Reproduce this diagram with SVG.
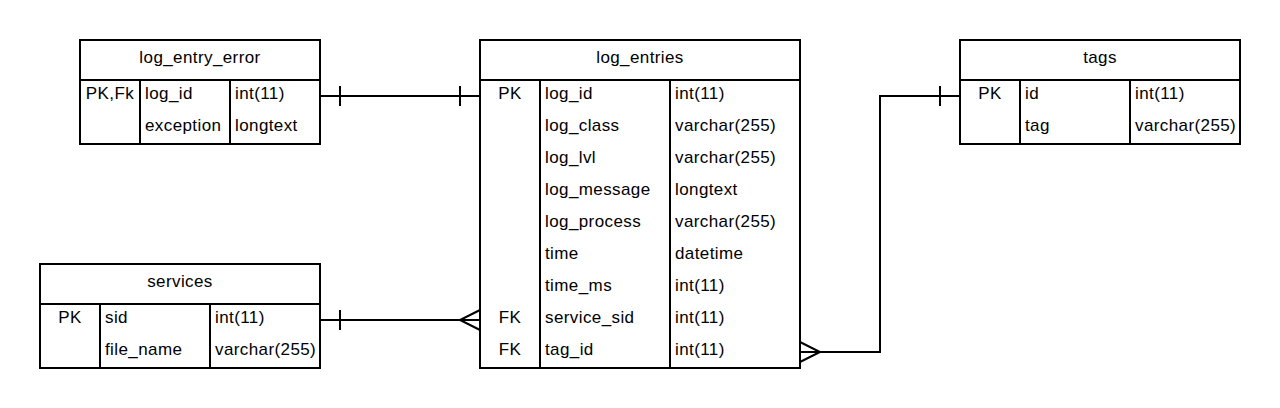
<svg xmlns="http://www.w3.org/2000/svg" width="1280" height="408" viewBox="0 0 1280 408">
<style>
  .box{fill:#fff;stroke:#000;stroke-width:2}
  .ln{fill:none;stroke:#000;stroke-width:2}
  text{font-family:"Liberation Sans",Arial,sans-serif;font-size:17px;letter-spacing:0.4px;fill:#000;dominant-baseline:central}
  .c{text-anchor:middle}
</style>
<rect width="1280" height="408" fill="#fff"/>
<g id="log_entry_error">
  <rect class="box" x="80" y="40" width="240" height="104"/>
  <path class="ln" d="M80 80H320M140 80V144M230 80V144"/>
  <text class="c" x="200" y="57">log_entry_error</text>
  <text class="c" x="110" y="93">PK,Fk</text>
  <text x="145" y="93">log_id</text><text x="235" y="93">int(11)</text>
  <text x="145" y="125">exception</text><text x="235" y="125">longtext</text>
</g>
<g id="log_entries">
  <rect class="box" x="480" y="40" width="320" height="328"/>
  <path class="ln" d="M480 80H800M540 80V368M670 80V368"/>
  <text class="c" x="640" y="57">log_entries</text>
  <text class="c" x="510" y="93">PK</text><text x="545" y="93">log_id</text><text x="675" y="93">int(11)</text>
  <text x="545" y="125">log_class</text><text x="675" y="125">varchar(255)</text>
  <text x="545" y="157">log_lvl</text><text x="675" y="157">varchar(255)</text>
  <text x="545" y="189">log_message</text><text x="675" y="189">longtext</text>
  <text x="545" y="221">log_process</text><text x="675" y="221">varchar(255)</text>
  <text x="545" y="253">time</text><text x="675" y="253">datetime</text>
  <text x="545" y="285">time_ms</text><text x="675" y="285">int(11)</text>
  <text class="c" x="510" y="317">FK</text><text x="545" y="317">service_sid</text><text x="675" y="317">int(11)</text>
  <text class="c" x="510" y="349">FK</text><text x="545" y="349">tag_id</text><text x="675" y="349">int(11)</text>
</g>
<g id="tags">
  <rect class="box" x="960" y="40" width="280" height="104"/>
  <path class="ln" d="M960 80H1240M1020 80V144M1130 80V144"/>
  <text class="c" x="1100" y="57">tags</text>
  <text class="c" x="990" y="93">PK</text><text x="1025" y="93">id</text><text x="1135" y="93">int(11)</text>
  <text x="1025" y="125">tag</text><text x="1135" y="125">varchar(255)</text>
</g>
<g id="services">
  <rect class="box" x="40" y="264" width="280" height="104"/>
  <path class="ln" d="M40 304H320M100 304V368M210 304V368"/>
  <text class="c" x="180" y="281">services</text>
  <text class="c" x="70" y="317">PK</text><text x="105" y="317">sid</text><text x="215" y="317">int(11)</text>
  <text x="105" y="349">file_name</text><text x="215" y="349">varchar(255)</text>
</g>
<g id="connectors">
  <path class="ln" d="M320 96H480M340 86V106M460 86V106"/>
  <path class="ln" d="M320 320H480M340 310V330M480 310L460 320L480 330"/>
  <path class="ln" d="M800 352H880V96H960M940 86V106M800 342L820 352L800 362"/>
</g>
</svg>
